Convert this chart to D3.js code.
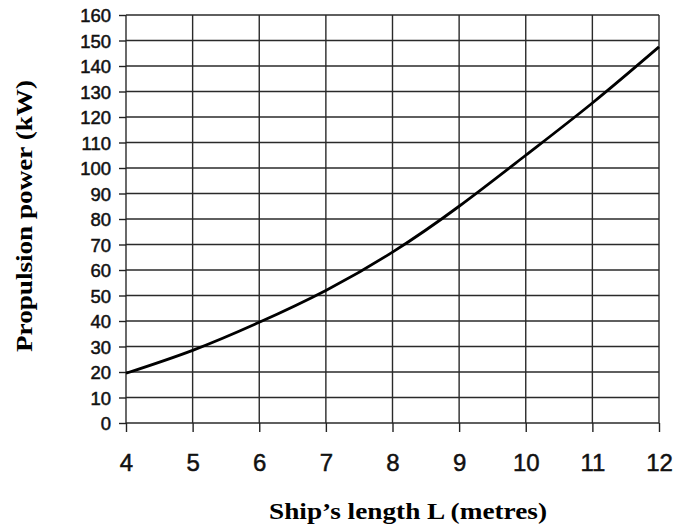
<!DOCTYPE html>
<html>
<head>
<meta charset="utf-8">
<script src="https://cdn.jsdelivr.net/npm/d3@7"></script>
<style>
  body { margin: 0; background: #fff; }
  .axis text { font-family: "Liberation Sans", Arial, sans-serif; fill: #111; stroke: #111; stroke-width: 0.5px; }
  .axis line { stroke: #222; stroke-width: 1.4; }
  .axis path { display: none; }
  .grid line { stroke: #2a2a2a; stroke-width: 1.4; }
  .title { font-family: "Liberation Serif", "Times New Roman", serif; font-weight: bold; font-size: 23px; fill: #000; }
</style>
</head>
<body>
<svg id="chart" width="680" height="528"></svg>
<script>
// ship length (m) vs propulsion power (kW)
var lengths = [4, 5, 6, 7, 8, 9, 10, 11, 12];
var power = [19.5, 28.5, 39.5, 52, 67, 85, 105, 125.5, 147.5];
var xTicks = [4, 5, 6, 7, 8, 9, 10, 11, 12];
var yTicks = [0, 10, 20, 30, 40, 50, 60, 70, 80, 90, 100, 110, 120, 130, 140, 150, 160];

var svg = d3.select("svg#chart"),
    margin = {top: 15, right: 21, bottom: 105, left: 126},
    width = +svg.attr("width") - margin.left - margin.right,
    height = +svg.attr("height") - margin.top - margin.bottom;

var x = d3.scaleLinear().domain([4, 12]).range([0, width]);
var y = d3.scaleLinear().domain([0, 160]).range([height, 0]);

var g = svg.append("g")
    .attr("transform", "translate(" + margin.left + "," + margin.top + ")");

// grid
var grid = g.append("g").attr("class", "grid");
grid.selectAll(".h").data(yTicks).enter().append("line")
    .attr("x1", 0).attr("x2", width)
    .attr("y1", function(d) { return y(d); })
    .attr("y2", function(d) { return y(d); });
grid.selectAll(".v").data(xTicks).enter().append("line")
    .attr("y1", 0).attr("y2", height)
    .attr("x1", function(d) { return x(d); })
    .attr("x2", function(d) { return x(d); });

g.append("g")
    .attr("class", "axis axis--y")
    .call(d3.axisLeft(y).tickValues(yTicks).tickSize(7).tickPadding(8))
    .selectAll("text")
    .style("font-size", "18.5px")
    .attr("dy", "0.36em");

g.append("g")
    .attr("class", "axis axis--x")
    .attr("transform", "translate(0," + height + ")")
    .call(d3.axisBottom(x).tickValues(xTicks).tickSize(9).tickPadding(22))
    .selectAll("text")
    .style("font-size", "24px");

var line = d3.line()
    .x(function(d, i) { return x(lengths[i]); })
    .y(function(d) { return y(d); })
    .curve(d3.curveNatural);

g.append("path")
    .datum(power)
    .attr("fill", "none")
    .attr("stroke", "#000")
    .attr("stroke-width", 2.8)
    .attr("d", line);

// axis titles
svg.append("text")
    .attr("class", "title")
    .attr("x", 408)
    .attr("y", 519)
    .attr("text-anchor", "middle")
    .attr("textLength", 278)
    .attr("lengthAdjust", "spacingAndGlyphs")
    .text("Ship\u2019s length L (metres)");

svg.append("text")
    .attr("class", "title")
    .attr("transform", "translate(32,216) rotate(-90)")
    .attr("text-anchor", "middle")
    .attr("textLength", 272)
    .attr("lengthAdjust", "spacingAndGlyphs")
    .text("Propulsion power (kW)");
</script>
</body>
</html>
